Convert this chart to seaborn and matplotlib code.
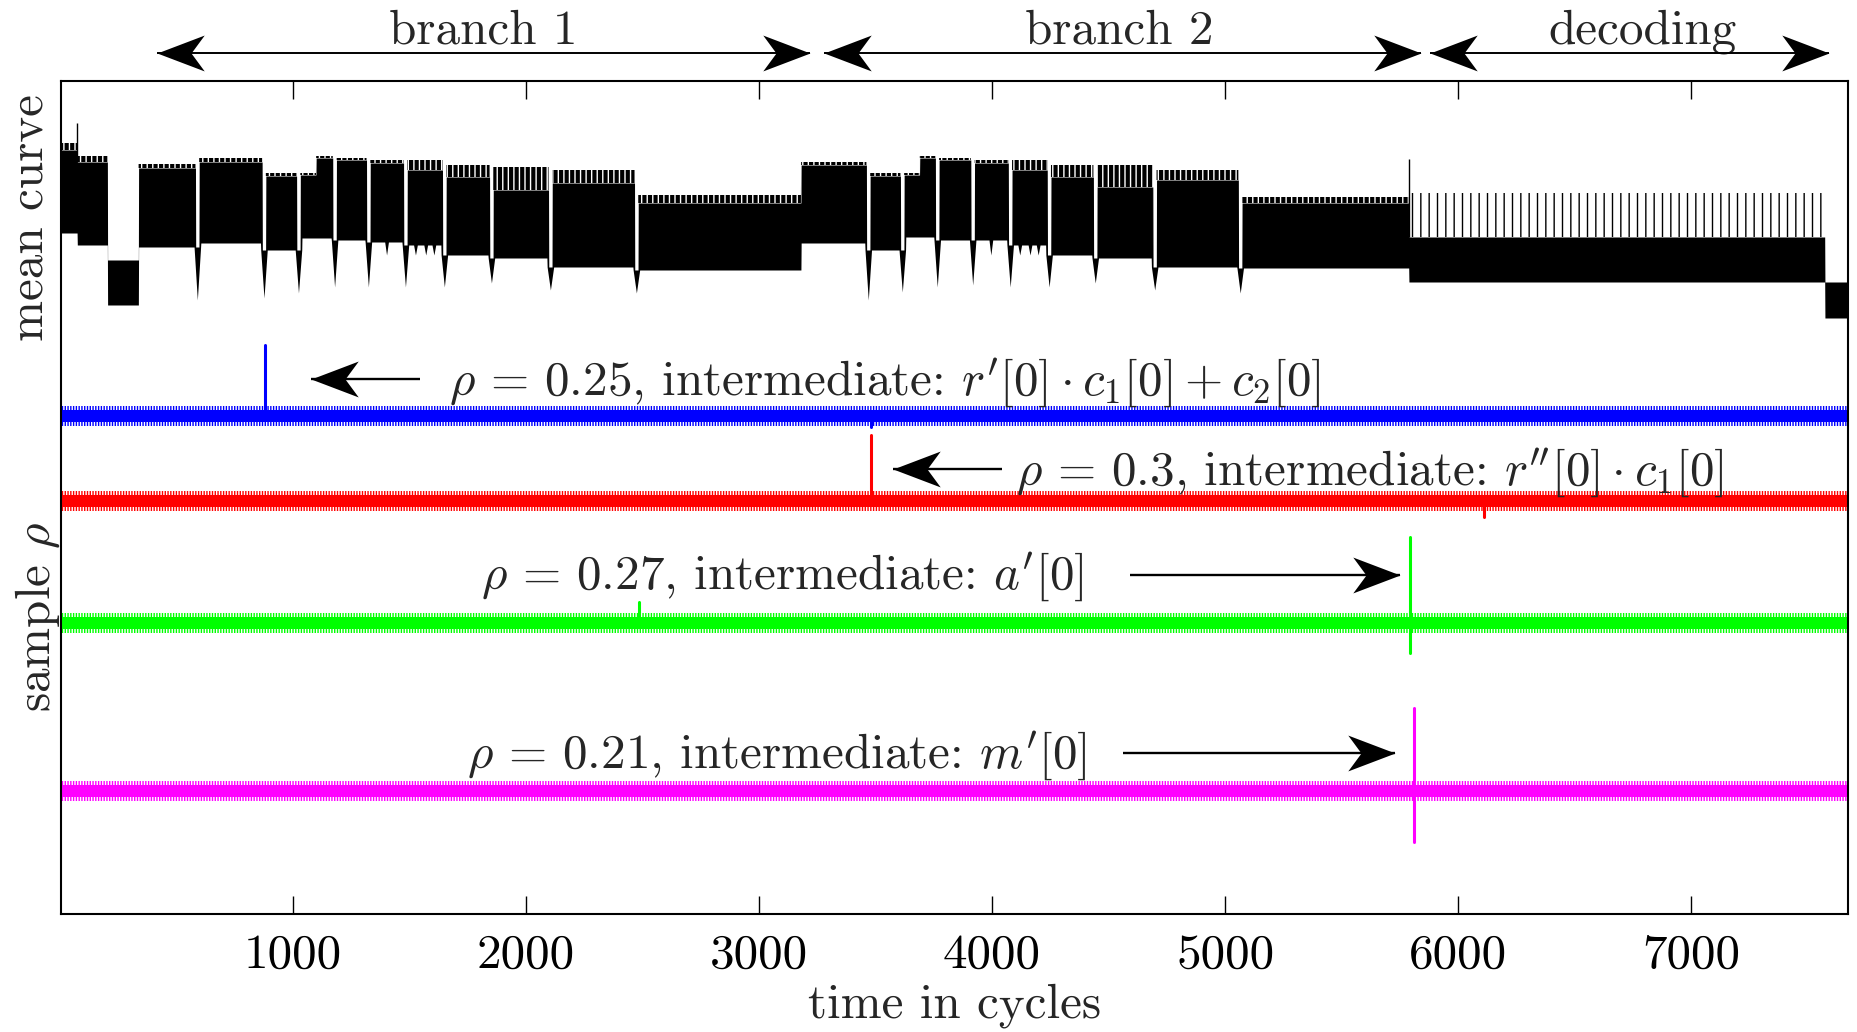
import numpy as np
import pandas as pd
import matplotlib
matplotlib.use("Agg")
import matplotlib.pyplot as plt
from matplotlib.path import Path
import seaborn as sns

# ---------------- data ----------------
x_min, x_max = 5, 7673
xtick_vals = [1000, 2000, 3000, 4000, 5000, 6000, 7000]

# mean power curve, envelope per block (arbitrary units)
blk_start = [5, 75, 205, 338, 590, 876, 1024, 1100, 1179, 1324, 1483, 1650, 1852, 2105,
             2474, 3181, 3469, 3615, 3690, 3765, 3917, 4078, 4245, 4443, 4698, 5065, 5789, 7574]
blk_top = [16.8, 15.6, 5.8, 15.0, 15.6, 14.2, 14.3, 16.0, 15.8, 15.5, 14.8, 14.1, 12.8, 13.5,
           11.5, 15.3, 14.2, 14.3, 16.0, 15.8, 15.5, 14.8, 14.1, 13.1, 13.8, 11.5, 8.1, 3.6]
blk_peak = [17.5, 16.2, 5.8, 15.4, 16.0, 14.5, 14.5, 16.2, 16.0, 15.8, 15.8, 15.3, 15.1, 14.8,
            12.3, 15.6, 14.5, 14.5, 16.2, 16.0, 15.8, 15.8, 15.3, 15.3, 14.8, 12.1, 12.5, 3.6]
blk_bottom = [8.5, 7.3, 1.3, 7.1, 7.5, 6.8, 8.0, 8.0, 7.8, 7.6, 7.3, 6.3, 6.0, 5.1,
              4.8, 7.5, 6.8, 8.1, 8.1, 7.8, 7.8, 7.3, 6.3, 6.0, 5.1, 5.0, 3.6, 0.0]
# blocks whose upper spikes are sparse (decoding phase)
sparse_blocks = [26]

# deep dips between the loop iterations
dip_x = [590, 876, 1024, 1179, 1324, 1483, 1650, 1852, 2105, 2474,
         3469, 3615, 3765, 3917, 4078, 4245, 4443, 4698, 5065]
dip_low = [1.8, 2.0, 2.5, 3.1, 3.1, 3.1, 3.1, 3.5, 2.8, 2.5,
           1.8, 2.6, 3.1, 3.3, 3.1, 3.1, 3.5, 2.8, 2.5]
# shallow notches in the lower envelope
notch_x = [1402, 1526, 1570, 1605, 3995, 4119, 4163, 4198]
notch_low = [6.3, 6.3, 6.3, 6.3, 6.3, 6.3, 6.3, 6.3]
# isolated upward spikes of the mean curve
mean_spike_x = [75, 5789]
mean_spike_top = [19.5, 15.9]

# sample correlation traces
trace_names = ["r1", "r2", "a1", "m1"]
trace_colors = ["#0000ff", "#ff0000", "#00ff00", "#ff00ff"]
rho_noise_core = [0.020, 0.026, 0.018, 0.015]
rho_noise_peak = [0.034, 0.044, 0.030, 0.026]
spike_trace = ["r1", "r1", "r2", "r2", "a1", "a1", "a1", "m1", "m1"]
spike_x = [881, 3480, 3480, 6112, 2484, 5795, 5795, 5810, 5810]
spike_rho = [0.25, -0.039, 0.30, -0.073, 0.066, 0.27, -0.094, 0.21, -0.13]

# labelled peaks
ann_text = [r"$\rho\,=\,0.25$, intermediate: $r'[0]\cdot c_1[0] + c_2[0]$",
            r"$\rho\,=\,0.3$, intermediate: $r''[0]\cdot c_1[0]$",
            r"$\rho\,=\,0.27$, intermediate: $a'[0]$",
            r"$\rho\,=\,0.21$, intermediate: $m'[0]$"]

# program phases
phase_names = ["branch 1", "branch 2", "decoding"]
phase_start = [419, 3280, 5880]
phase_end = [3218, 5841, 7591]

# ---------------- layout ----------------
MEAN_BASE, MEAN_SCALE = 596, 10.0
trace_base = [498, 413, 291, 123]
trace_gain = [284, 220, 318, 395]
ann_text_x = [1671, 4104, 1809, 1749]
ann_text_y = [519, 429, 325, 146]
ann_tail_x = [1547, 4044, 4591, 4561]
ann_tip_x = [1079, 3576, 5749, 5728]
ann_arrow_y = [535, 445, 339, 161]
phase_text_x = [1817, 4546, 6793]
PHASE_Y, PHASE_TEXT_Y = 861, 871

sns.set_style("ticks")
plt.rcParams.update({
    "font.family": ["cmr10"],
    "mathtext.fontset": "cm",
    "axes.formatter.use_mathtext": True,
    "axes.linewidth": 1.5,
    "axes.edgecolor": "black",
    "xtick.direction": "in",
    "xtick.top": True,
    "xtick.major.size": 13,
    "xtick.major.width": 1.0,
    "xtick.color": "black",
    "hatch.color": "black",
    "hatch.linewidth": 1.0,
})

fig = plt.figure(figsize=(18.57, 10.32), dpi=100)
ax = fig.add_axes([61 / 1857, 1 - 914 / 1032, (1848 - 61) / 1857, (914 - 81) / 1032])
FS = 35.4

# ---- mean curve ----
xg = np.arange(x_min, x_max + 1, 1.0)
bi = np.clip(np.searchsorted(blk_start, xg, side="right") - 1, 0, len(blk_start) - 1)
top = np.asarray(blk_top, float)[bi]
peak = np.asarray(blk_peak, float)[bi]
low = np.asarray(blk_bottom, float)[bi]
DIP_HALF, GAP_HALF, NOTCH_HALF = 14, 7, 8
for d, v in zip(dip_x, dip_low):
    k = np.searchsorted(blk_start, d, side="right") - 1
    floor = min(blk_bottom[k], blk_bottom[max(k - 1, 0)])
    r = np.abs(xg - d)
    m = r <= DIP_HALF
    low[m] = np.minimum(low[m], v + (floor - v) * r[m] / DIP_HALF)
    g = r <= GAP_HALF
    top[g] = floor
    peak[g] = floor
for d, v in zip(notch_x, notch_low):
    k = np.searchsorted(blk_start, d, side="right") - 1
    floor = blk_bottom[k]
    r = np.abs(xg - d)
    m = r <= NOTCH_HALF
    low[m] = np.minimum(low[m], v + (floor - v) * r[m] / NOTCH_HALF)
peak = np.maximum(peak, top)


def ymean(v):
    return MEAN_BASE + MEAN_SCALE * np.asarray(v)


# dense body of the trace
ax.fill_between(xg, ymean(low), ymean(top), color="black", lw=0, zorder=3)
sparse = np.isin(bi, sparse_blocks)
# dense spikes: black with thin white gaps
ax.fill_between(xg, ymean(top), ymean(peak), where=~sparse, facecolor="black",
                edgecolor="white", hatch="|||", lw=0, zorder=3)
# sparse spikes during decoding: thin black lines on white
ax.fill_between(xg, ymean(top), ymean(peak), where=sparse, facecolor="none",
                edgecolor="black", hatch="||", lw=0, zorder=3)
ax.vlines(mean_spike_x, ymean([blk_top[np.searchsorted(blk_start, s, side="right") - 1]
                                 for s in mean_spike_x]),
          ymean(mean_spike_top), color="black", lw=1.0, zorder=3)

# ---- correlation traces ----
for name, c, base, gain, core, pk in zip(trace_names, trace_colors, trace_base,
                                         trace_gain, rho_noise_core, rho_noise_peak):
    ax.fill_between([x_min, x_max], base - gain * core, base + gain * core,
                    color=c, lw=0, zorder=2)
    ax.fill_between([x_min, x_max], base - gain * pk, base + gain * pk,
                    facecolor="none", edgecolor=c, hatch="||||||", lw=0, zorder=2)

rows = []
for sid, (t, sx, sr) in enumerate(zip(spike_trace, spike_x, spike_rho)):
    i = trace_names.index(t)
    rows.append({"sid": sid, "trace": t, "x": sx, "y": trace_base[i]})
    rows.append({"sid": sid, "trace": t, "x": sx, "y": trace_base[i] + trace_gain[i] * sr})
spikes = pd.DataFrame(rows)
sns.lineplot(data=spikes, x="x", y="y", hue="trace", units="sid", estimator=None,
             sort=False, palette=dict(zip(trace_names, trace_colors)), legend=False,
             lw=2.2, ax=ax, zorder=2)


# ---- arrows ----
def head(pointing_right):
    s = 1 if pointing_right else -1
    verts = [(0, 0), (-s * 1.0, 0.38), (-s * 0.72, 0), (-s * 1.0, -0.38), (0, 0)]
    codes = [Path.MOVETO, Path.LINETO, Path.LINETO, Path.LINETO, Path.CLOSEPOLY]
    return Path(verts, codes)


def arrow(x0, x1, y, lw, ms, both=False):
    ax.plot([x0, x1], [y, y], color="black", lw=lw, solid_capstyle="butt",
            clip_on=False, zorder=5)
    ax.plot([x1], [y], marker=head(x1 > x0), ms=ms, color="black", mew=0,
            ls="none", clip_on=False, zorder=5)
    if both:
        ax.plot([x0], [y], marker=head(x0 > x1), ms=ms, color="black", mew=0,
                ls="none", clip_on=False, zorder=5)


for txt, tx, ty, x0, x1, ay in zip(ann_text, ann_text_x, ann_text_y, ann_tail_x,
                                   ann_tip_x, ann_arrow_y):
    arrow(x0, x1, ay, 1.7, 68)
    ax.text(tx, ty, txt, fontsize=FS, ha="left", va="baseline", zorder=6)

for name, s, e, tx in zip(phase_names, phase_start, phase_end, phase_text_x):
    arrow(s, e, PHASE_Y, 1.4, 68, both=True)
    ax.text(tx, PHASE_TEXT_Y, name, fontsize=FS, ha="center", va="baseline",
            clip_on=False)

# ---- axes ----
ax.set_xlim(x_min, x_max)
ax.set_ylim(0, 833)
ax.set_yticks([])
ax.set_xticks(xtick_vals, labels=[str(v) for v in xtick_vals], fontsize=FS)
ax.tick_params(axis="x", pad=14)
ax.set_xlabel("time in cycles", fontsize=FS, labelpad=4)
ax.set_ylabel("")
for sp in ax.spines.values():
    sp.set_visible(True)
    sp.set_color("black")
fig.text(30 / 1857, 1 - 218 / 1032, "mean curve", rotation=90, fontsize=FS,
         ha="center", va="center")
fig.text(38 / 1857, 1 - 617 / 1032, r"sample $\rho$", rotation=90, fontsize=FS,
         ha="center", va="center")

fig.savefig("out.png", dpi=100, facecolor="white")
